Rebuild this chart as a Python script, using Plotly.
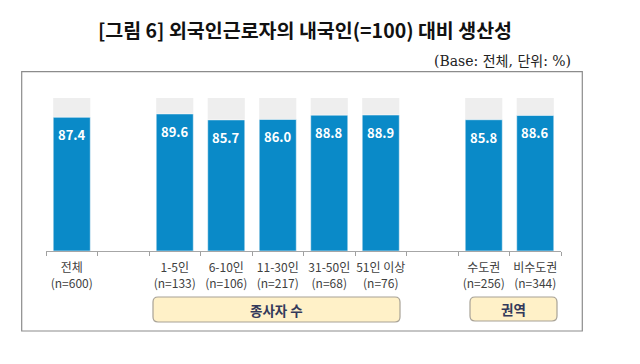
import plotly.graph_objects as go

# ---- data ----
groups = ["전체", "1-5인", "6-10인", "11-30인", "31-50인", "51인 이상", "수도권", "비수도권"]
n_sizes = [600, 133, 106, 217, 68, 76, 256, 344]
values = [87.4, 89.6, 85.7, 86.0, 88.8, 88.9, 85.8, 88.6]
base_value = 100
section_names = ["종사자 수", "권역"]
title_text = "[그림 6] 외국인근로자의 내국인(=100) 대비 생산성"
subtitle_text = "(Base: 전체, 단위: %)"

# ---- build category axis with spacer slots ----
labels = [f"{g}<br>(n={n})" for g, n in zip(groups, n_sizes)]
spacer1, spacer2 = " ", "  "
order = [labels[0], spacer1] + labels[1:6] + [spacer2] + labels[6:8]

OFF = 8  # page body margin
W, H = 640, 364
PL, PT, PW, PH = 46, 98, 515, 153   # plot area in page pixels
L, T = PL - OFF, PT - OFF
R, B = W - L - PW, H - T - PH

def px(x):
    return (x - PL) / PW

def py(y):
    return (PT + PH - y) / PH

FONT = "Noto Sans CJK KR, Noto Sans, sans-serif"
BLUE = "#0a8ac8"

fig = go.Figure()
fig.add_trace(go.Bar(
    x=order, y=[base_value if c.strip() else None for c in order],
    marker=dict(color="#eeeeee", line=dict(width=0)),
    width=0.72, hoverinfo="skip", showlegend=False,
))
fig.add_trace(go.Bar(
    x=labels, y=values,
    marker=dict(color=BLUE, line=dict(width=0.8, color="rgba(255,255,255,0.7)")),
    width=0.72, showlegend=False,
))

annotations = []
for lab, v in zip(labels, values):
    annotations.append(dict(
        x=lab, y=v, xref="x", yref="y", text=f"{v:.1f}", showarrow=False,
        yanchor="top", yshift=-6,
        font=dict(family=FONT, size=13, color="white", weight="bold"),
    ))

shapes = []
shapes.append(dict(type="rect", xref="paper", yref="paper",
                   x0=px(21.7), x1=px(582.3), y0=py(331), y1=py(71.7),
                   line=dict(color="#8c8c8c", width=1.2), layer="below"))

def rounded(x0, y0, x1, y1, r=5):
    ax0, ax1 = px(x0), px(x1)
    ay0, ay1 = py(y0), py(y1)
    rx, ry = r / PW, r / PH
    return (f"M {ax0+rx},{ay0} L {ax1-rx},{ay0} Q {ax1},{ay0} {ax1},{ay0-ry} "
            f"L {ax1},{ay1+ry} Q {ax1},{ay1} {ax1-rx},{ay1} "
            f"L {ax0+rx},{ay1} Q {ax0},{ay1} {ax0},{ay1+ry} "
            f"L {ax0},{ay0-ry} Q {ax0},{ay0} {ax0+rx},{ay0} Z")

boxes = [(153, 297, 400, 322), (470, 297, 557, 321)]
for (x0, y0, x1, y1), name in zip(boxes, section_names):
    shapes.append(dict(type="path", xref="paper", yref="paper",
                       path=rounded(x0, y0, x1, y1),
                       fillcolor="#fff1c8", line=dict(color="#a8a296", width=1.2)))
    annotations.append(dict(
        x=px((x0 + x1) / 2), y=py((y0 + y1) / 2), xref="paper", yref="paper",
        text=name, showarrow=False, xanchor="center", yanchor="middle",
        font=dict(family=FONT, size=13.5, color="#33395a", weight="bold"),
    ))

annotations.append(dict(
    x=px(573), y=py(61), xref="paper", yref="paper", text=subtitle_text,
    showarrow=False, xanchor="right", yanchor="middle",
    font=dict(family="DejaVu Serif, Noto Sans CJK KR, serif", size=14, color="#222222"),
))

fig.update_layout(
    width=W, height=H,
    margin=dict(l=L, r=R, t=T, b=B, pad=0, autoexpand=False),
    paper_bgcolor="white", plot_bgcolor="white",
    barmode="overlay",
    title=dict(text=f"<b>{title_text}</b>", x=(305 - OFF) / W, y=1 - (31 - OFF) / H,
               xref="container", yref="container", xanchor="center", yanchor="middle",
               font=dict(family=FONT, size=19.5, color="#111111")),
    xaxis=dict(type="category", categoryorder="array", categoryarray=order,
               range=[-0.5, len(order) - 0.5], tickson="boundaries",
               ticks="outside", ticklen=4, tickcolor="#a0a0a0",
               tickangle=0, automargin=False, ticklabelstandoff=6,
               showline=True, linecolor="#a6a6a6", linewidth=1,
               showgrid=False, zeroline=False,
               tickfont=dict(family=FONT, size=12, color="#404040")),
    yaxis=dict(range=[0, 100], visible=False, fixedrange=True, automargin=False),
    annotations=annotations, shapes=shapes,
    font=dict(family=FONT),
)

fig.write_html("out.html")
